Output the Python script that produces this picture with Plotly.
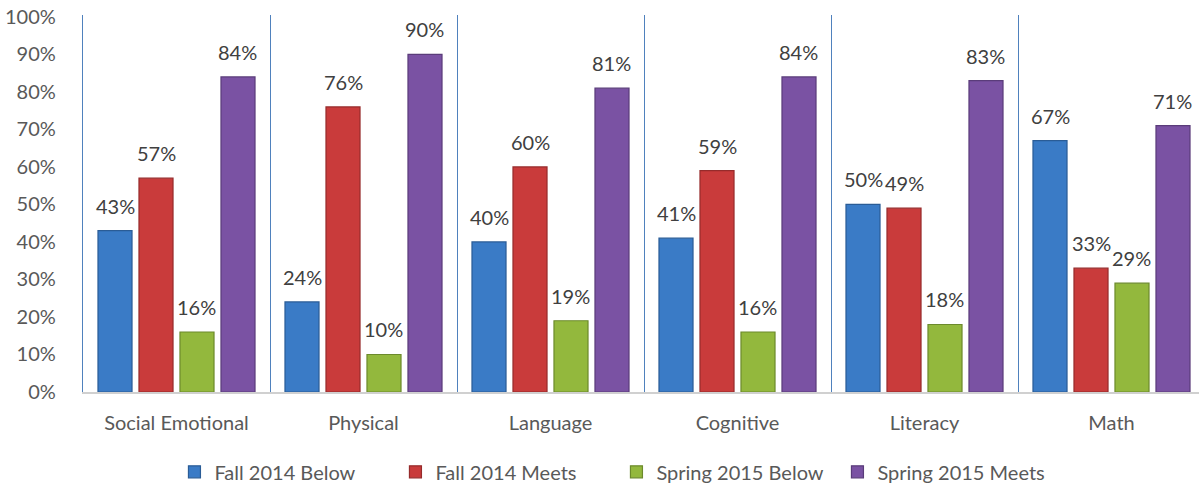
import plotly.graph_objects as go

categories = ["Social Emotional", "Physical", "Language", "Cognitive", "Literacy", "Math"]
series_names = ["Fall 2014 Below", "Fall 2014 Meets", "Spring 2015 Below", "Spring 2015 Meets"]
fall_below = [43, 24, 40, 41, 50, 67]
fall_meets = [57, 76, 60, 59, 49, 33]
spring_below = [16, 10, 19, 16, 18, 29]
spring_meets = [84, 90, 81, 84, 83, 71]
y_ticks = [0, 10, 20, 30, 40, 50, 60, 70, 80, 90, 100]

series_values = [fall_below, fall_meets, spring_below, spring_meets]
fill_colors = ["#3A7BC6", "#C93B3B", "#93B83D", "#7A52A3"]
line_colors = ["#2A5C96", "#962B2B", "#6C8A2C", "#5A3C7A"]

W, H = 1199, 491
ml, mr, mt, mb = 83, 0, 15, 99
cat_px = 187.0
plot_w = W - ml - mr
x_hi = -0.5 + plot_w / cat_px
FONT = "Lato, Open Sans, sans-serif"

fig = go.Figure()
for name, vals, fc, lc in zip(series_names, series_values, fill_colors, line_colors):
    fig.add_trace(go.Bar(
        name=name, x=categories, y=vals,
        marker=dict(color=fc, line=dict(color=lc, width=1.2)),
        hoverinfo="x+y+name",
    ))

# data labels above bars
slot = cat_px * (1 - 0.123) / 4
for i, vals in enumerate(series_values):
    for c, v in zip(categories, vals):
        fig.add_annotation(
            x=c, y=v, xref="x", yref="y", text=f"{v}%", showarrow=False,
            xshift=(i - 1.5) * slot, yshift=25, yanchor="middle",
            font=dict(family=FONT, size=20, color="#404040"),
        )

fig.update_layout(
    width=W, height=H,
    margin=dict(l=ml, r=mr, t=mt, b=mb, autoexpand=False),
    paper_bgcolor="white", plot_bgcolor="white",
    barmode="group", bargap=0.123, bargroupgap=0.17,
    font=dict(family=FONT, size=20, color="#595959"),
    showlegend=True,
    legend=dict(orientation="h", x=0.478, xanchor="center", y=-0.16, yanchor="top",
                font=dict(size=20, color="#595959"), itemwidth=30,
                entrywidth=176, entrywidthmode="pixels",
                traceorder="normal"),
    xaxis=dict(
        type="category", range=[-0.5, x_hi], tickson="boundaries",
        showgrid=True, gridcolor="#4F81BD", gridwidth=1.3,
        showline=True, linecolor="#D0D0D0", linewidth=2,
        ticks="", tickfont=dict(size=20, color="#595959"),
        ticklabelstandoff=12, automargin=False,
    ),
    yaxis=dict(
        range=[0, 100.5], tickvals=y_ticks, ticktext=[f"{t}%" for t in y_ticks],
        showgrid=False, zeroline=False, showline=True, linecolor="#4F81BD",
        linewidth=1.3, ticks="",
        tickfont=dict(size=20, color="#595959"), ticklabelstandoff=22,
        automargin=False,
    ),
)

fig.write_html("out.html", config={"displayModeBar": False},
               post_script="document.body.style.margin='0';")
